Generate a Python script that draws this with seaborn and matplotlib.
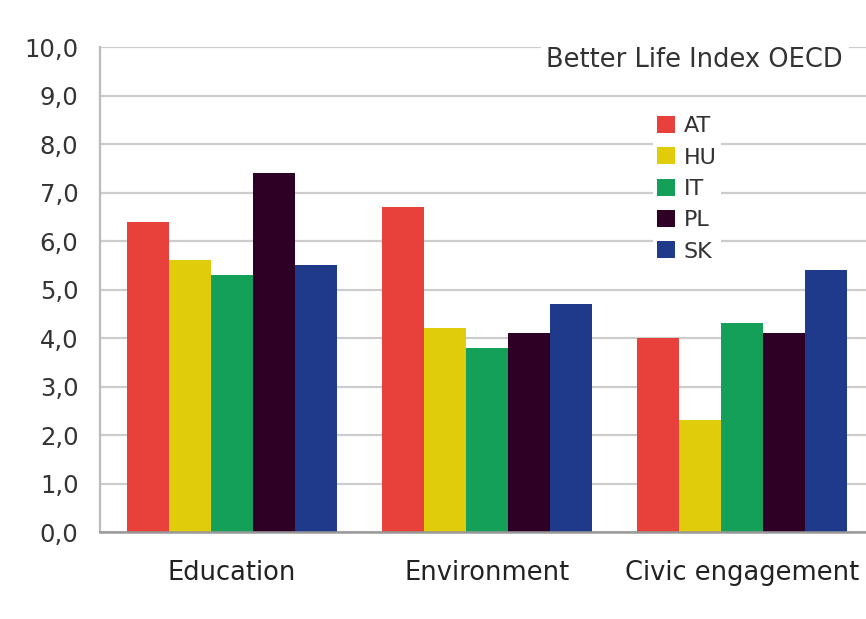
# Better Life Index OECD - barras agrupadas por categoría y país
import pandas as pd
import seaborn as sns
import matplotlib.pyplot as plt
from matplotlib.ticker import FuncFormatter, FixedLocator

# Datos
categorias = ["Education", "Environment", "Civic engagement"]
paises = ["AT", "HU", "IT", "PL", "SK"]
at = [6.4, 6.7, 4.0]
hu = [5.6, 4.2, 2.3]
it = [5.3, 3.8, 4.3]
pl = [7.4, 4.1, 4.1]
sk = [5.5, 4.7, 5.4]
colores = ["#e8413c", "#e0cc0a", "#15a05a", "#2e0026", "#1f3a8a"]

valores = {"AT": at, "HU": hu, "IT": it, "PL": pl, "SK": sk}
filas = []
for pais in paises:
    for cat, v in zip(categorias, valores[pais]):
        filas.append([cat, pais, v])
df = pd.DataFrame(filas, columns=["Categoria", "Pais", "Valor"])

sns.set_style("white")
plt.rcParams["font.family"] = ["DejaVu Sans"]

fig = plt.figure(figsize=(8.66, 6.19), dpi=100)
ax = fig.add_axes([0.1155, 0.1405, 0.8845, 0.7835])

sns.barplot(data=df, x="Categoria", y="Valor", hue="Pais", order=categorias,
            hue_order=paises, palette=colores, width=0.824, saturation=1,
            linewidth=0, ax=ax)

ax.set_ylim(0, 10)
ax.set_xlim(-0.518, 2.486)
ax.set_yticks(range(0, 11))
ax.yaxis.set_major_formatter(FuncFormatter(lambda v, p: f"{v:.1f}".replace(".", ",")))
ax.grid(axis="y", color="#cccccc", linewidth=1.6)
ax.set_axisbelow(True)
ax.set_xlabel("")
ax.set_ylabel("")

for lado in ["top", "right"]:
    ax.spines[lado].set_visible(False)
ax.spines["left"].set_color("#bbbbbb")
ax.spines["left"].set_linewidth(1.6)
ax.spines["bottom"].set_color("#999999")
ax.spines["bottom"].set_linewidth(1.8)

ax.tick_params(axis="y", length=9.5, width=1.6, color="#cccccc", labelsize=17.5,
               labelcolor="#333333", pad=6)
ax.tick_params(axis="x", which="major", length=0, labelsize=18.5,
               labelcolor="#222222", pad=20)
ax.xaxis.set_minor_locator(FixedLocator([-0.518, 0.506, 1.498]))
ax.tick_params(axis="x", which="minor", length=11, width=1.6, color="#bbbbbb")

ax.text(0.97, 0.973, "Better Life Index OECD", transform=ax.transAxes,
        ha="right", va="center", fontsize=18.5, color="#333333",
        bbox=dict(facecolor="white", edgecolor="none", pad=4))

leg = ax.legend(loc="upper left", bbox_to_anchor=(0.707, 0.89), frameon=True,
                fontsize=16, handlelength=0.8, handleheight=0.8,
                handletextpad=0.4, labelspacing=0.5, borderpad=0.2)
leg.get_frame().set_facecolor("white")
leg.get_frame().set_edgecolor("none")
leg.get_frame().set_alpha(1)
for t in leg.get_texts():
    t.set_color("#333333")

fig.savefig("out.png", dpi=100)
